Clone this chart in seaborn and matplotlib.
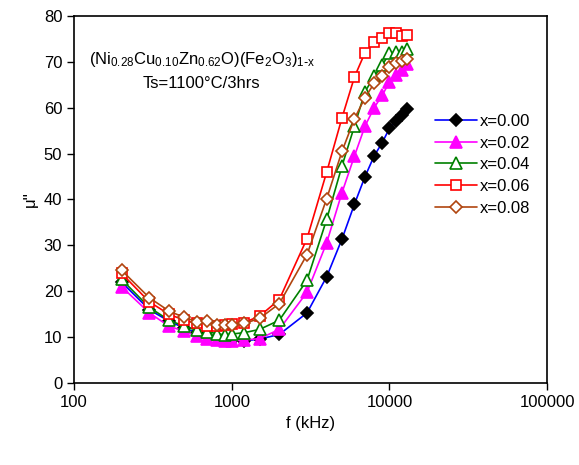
import numpy as np
import pandas as pd
import matplotlib
matplotlib.use('Agg')
import matplotlib.pyplot as plt
import matplotlib.ticker as ticker
import seaborn as sns

# frequency points (kHz)
freq = [200, 300, 400, 500, 600, 700, 800, 900, 1000, 1200, 1500, 2000,
        3000, 4000, 5000, 6000, 7000, 8000, 9000, 10000, 11000, 12000, 13000]

# mu'' values
mu_000 = [22.0, 16.0, 13.5, 12.0, 11.0, 10.3, 9.8, 9.5, 9.3, 9.2, 9.6, 10.6,
          15.3, 23.2, 31.4, 39.0, 45.0, 49.5, 52.4, 55.5, 57.0, 58.5, 59.8]
mu_002 = [21.0, 15.3, 12.4, 11.3, 10.3, 9.7, 9.4, 9.2, 9.2, 9.4, 9.7, 11.7,
          19.8, 30.6, 41.5, 49.5, 56.0, 60.0, 62.7, 65.6, 67.1, 68.3, 69.5]
mu_004 = [22.6, 16.5, 13.7, 12.4, 11.5, 11.2, 10.8, 10.5, 10.7, 11.0, 11.7, 13.7,
          22.4, 35.7, 47.3, 56.0, 63.5, 66.8, 69.3, 71.8, 72.2, 72.2, 72.7]
mu_006 = [23.9, 17.7, 15.0, 13.7, 13.0, 12.4, 12.4, 12.6, 12.8, 13.2, 14.6, 18.2,
          31.5, 46.0, 57.8, 66.7, 72.0, 74.2, 75.1, 76.2, 76.3, 75.7, 75.8]
mu_008 = [24.6, 18.6, 15.7, 14.3, 13.4, 13.5, 12.6, 12.6, 12.6, 13.0, 14.1, 17.3,
          28.0, 40.2, 50.5, 57.6, 62.2, 65.3, 66.9, 68.9, 69.8, 70.2, 70.5]

labels = ['x=0.00', 'x=0.02', 'x=0.04', 'x=0.06', 'x=0.08']
series = [mu_000, mu_002, mu_004, mu_006, mu_008]

sns.set_style('ticks', rc={'axes.edgecolor': 'black', 'xtick.color': 'black',
                           'ytick.color': 'black', 'text.color': 'black',
                           'axes.labelcolor': 'black'})
plt.rcParams['font.family'] = ['Liberation Sans', 'DejaVu Sans']
plt.rcParams['mathtext.default'] = 'regular'

# line colour, marker, marker face, marker edge, size
styles = [
    ('#0000FF', 'D', 'black', 'black', 6),
    ('#FF00FF', '^', '#FF00FF', '#FF00FF', 8),
    ('#008000', '^', 'white', '#008000', 8),
    ('#FF0000', 's', 'white', '#FF0000', 7),
    ('#B0450F', 'D', 'white', '#B0450F', 6),
]

fig = plt.figure(figsize=(5.79, 4.65), dpi=100)
ax = fig.add_axes([0.128, 0.176, 0.817, 0.79])

for lab, vals, (c, m, mfc, mec, ms) in zip(labels, series, styles):
    df = pd.DataFrame({'f': freq, 'mu': vals})
    sns.lineplot(data=df, x='f', y='mu', ax=ax, color=c, marker=m,
                 markerfacecolor=mfc, markeredgecolor=mec, markersize=ms,
                 markeredgewidth=1.2, linewidth=1.2, label=lab)

ax.set_xscale('log')
ax.set_xlim(100, 100000)
ax.set_ylim(0, 80)
ax.set_xticks([100, 1000, 10000, 100000])
ax.xaxis.set_major_formatter(ticker.FuncFormatter(lambda v, p: '%d' % v))
ax.xaxis.set_minor_locator(ticker.NullLocator())
ax.set_yticks(np.arange(0, 81, 10))
ax.tick_params(labelsize=12, length=5, width=1, direction='out')
for s in ax.spines.values():
    s.set_visible(True)
    s.set_linewidth(1.2)

ax.set_xlabel('f (kHz)', fontsize=12)
ax.set_ylabel("\u03bc''", fontsize=12)

ax.text(0.27, 0.88, r'(Ni$_{0.28}$Cu$_{0.10}$Zn$_{0.62}$O)(Fe$_2$O$_3$)$_{1\text{-}x}$',
        transform=ax.transAxes, ha='center', va='center', fontsize=12)
ax.text(0.27, 0.817, 'Ts=1100\u00b0C/3hrs', transform=ax.transAxes,
        ha='center', va='center', fontsize=12)

leg = ax.legend(loc='upper left', bbox_to_anchor=(0.763, 0.733), frameon=False,
                fontsize=12, handlelength=2.5, handletextpad=0.2,
                labelspacing=0.4, borderaxespad=0, borderpad=0)

fig.savefig('out.png', dpi=100)
